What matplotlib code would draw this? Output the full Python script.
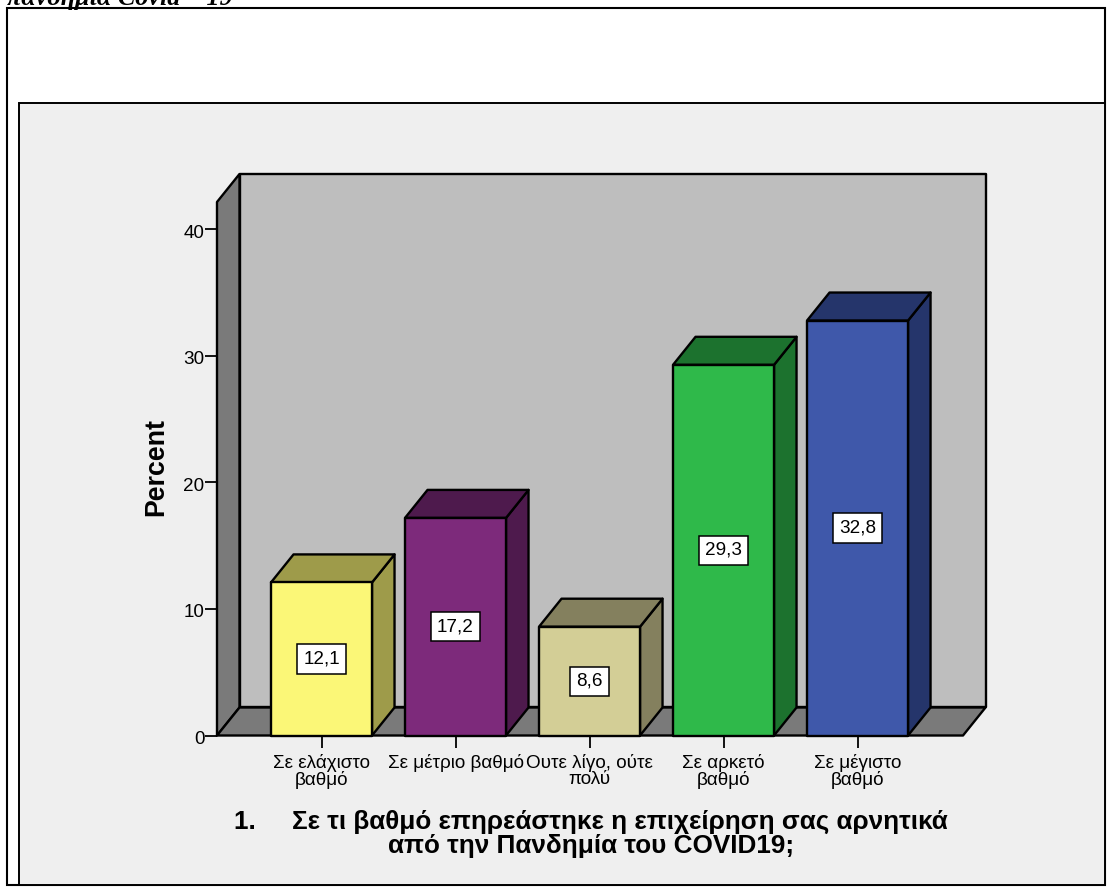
import matplotlib
matplotlib.use("Agg")
import matplotlib.pyplot as plt
from matplotlib.patches import Polygon, Rectangle
from matplotlib.transforms import IdentityTransform, ScaledTranslation

# Survey responses (percent of respondents)
categories = ["Σε ελάχιστο\nβαθμό", "Σε μέτριο βαθμό", "Ουτε λίγο, ούτε\nπολύ",
              "Σε αρκετό\nβαθμό", "Σε μέγιστο\nβαθμό"]
percent = [12.1, 17.2, 8.6, 29.3, 32.8]
value_labels = ["12,1", "17,2", "8,6", "29,3", "32,8"]
y_ticks = [0, 10, 20, 30, 40]

front_colors = ["#FBF777", "#7D2A7B", "#D3CE96", "#2FB94A", "#3F58AA"]
side_colors = ["#9E9B4A", "#4E1A4D", "#84805E", "#1C722E", "#25356B"]

W, H = 1108, 891
PX_X, PX_Y = 134.0, 12.65          # pixels per category step and per percent
DX, DY = 22.5 / PX_X, 28.0 / PX_Y  # 3D depth offset in data units
BAR_W = 101.0 / PX_X
X0, X1 = -0.78, 4.787
Y1 = 42.17
LW = 1.7
FONT = "Liberation Sans"

fig = plt.figure(figsize=(W / 100, H / 100), dpi=100, facecolor="white")


def frame(x0, y0, x1, y1, face, lw):
    fig.add_artist(Rectangle((x0, H - y1), x1 - x0, y1 - y0, transform=IdentityTransform(),
                             facecolor=face, edgecolor="black", linewidth=lw, zorder=-5))


frame(7, 8, 1105, 885, "white", 1.5)
frame(18.5, 103, 1105, 885, "#EFEFEF", 1.4)

ax = fig.add_axes([217 / W, (H - 735.5) / H, (963 - 217) / W, (735.5 - 202) / H])
ax.set_xlim(X0, X1)
ax.set_ylim(0, Y1)
ax.patch.set_visible(False)
for s in ax.spines.values():
    s.set_visible(False)


def poly(pts, face, z):
    ax.add_patch(Polygon(pts, closed=True, facecolor=face, edgecolor="black",
                         linewidth=LW, joinstyle="round", clip_on=False, zorder=z))


# Chart box: back wall, left wall and floor
poly([(X0 + DX, DY), (X1 + DX, DY), (X1 + DX, Y1 + DY), (X0 + DX, Y1 + DY)], "#BEBEBE", 1)
poly([(X0, 0), (X0 + DX, DY), (X0 + DX, Y1 + DY), (X0, Y1)], "#7A7A7A", 1.1)
poly([(X0, 0), (X1, 0), (X1 + DX, DY), (X0 + DX, DY)], "#7A7A7A", 1.2)

# Extruded bars with their value boxes
for i, v in enumerate(percent):
    l, r = i - BAR_W / 2, i + BAR_W / 2
    z = 2 + i * 0.1
    poly([(r, 0), (r + DX, DY), (r + DX, v + DY), (r, v)], side_colors[i], z)
    poly([(l, v), (r, v), (r + DX, v + DY), (l + DX, v + DY)], side_colors[i], z)
    poly([(l, 0), (r, 0), (r, v), (l, v)], front_colors[i], z + 0.01)
    ax.text(i, v / 2, value_labels[i], ha="center", va="center", fontsize=13.6,
            family=FONT, zorder=5,
            bbox=dict(boxstyle="square,pad=0.32", facecolor="white", edgecolor="black", linewidth=1.1))

ax.set_xticks(range(len(categories)))
ax.set_xticklabels(categories, family=FONT, fontsize=13.6, linespacing=0.94)
ax.set_yticks(y_ticks)
ax.set_yticklabels([str(t) for t in y_ticks], family=FONT, fontsize=13.6)
ax.tick_params(axis="both", direction="out", length=8.6, width=1.3, color="black", pad=0.5)
ax.tick_params(axis="x", pad=4.5)

# The value labels sit slightly below their tick marks
for lbl in ax.get_yticklabels():
    lbl.set_transform(lbl.get_transform() + ScaledTranslation(0, -2 / 100, fig.dpi_scale_trans))

fig.text(156 / W, 1 - 467 / H, "Percent", rotation=90, ha="center", va="center",
         family=FONT, fontweight="bold", fontsize=19.3)
fig.text(591 / W, 1 - 833.5 / H,
         "1.     Σε τι βαθμό επηρεάστηκε η επιχείρηση σας αρνητικά\nαπό την Πανδημία του COVID19;",
         ha="center", va="center", multialignment="center", family=FONT, fontweight="bold",
         fontsize=18.8, linespacing=1.0)

# Caption running off the top edge of the page
fig.text(7 / W, 1 - 5.5 / H, "πανδημία Covid – 19", ha="left", va="baseline",
         family="Liberation Serif", fontweight="bold", style="italic", fontsize=18.8)

fig.savefig("out.png", dpi=100)
